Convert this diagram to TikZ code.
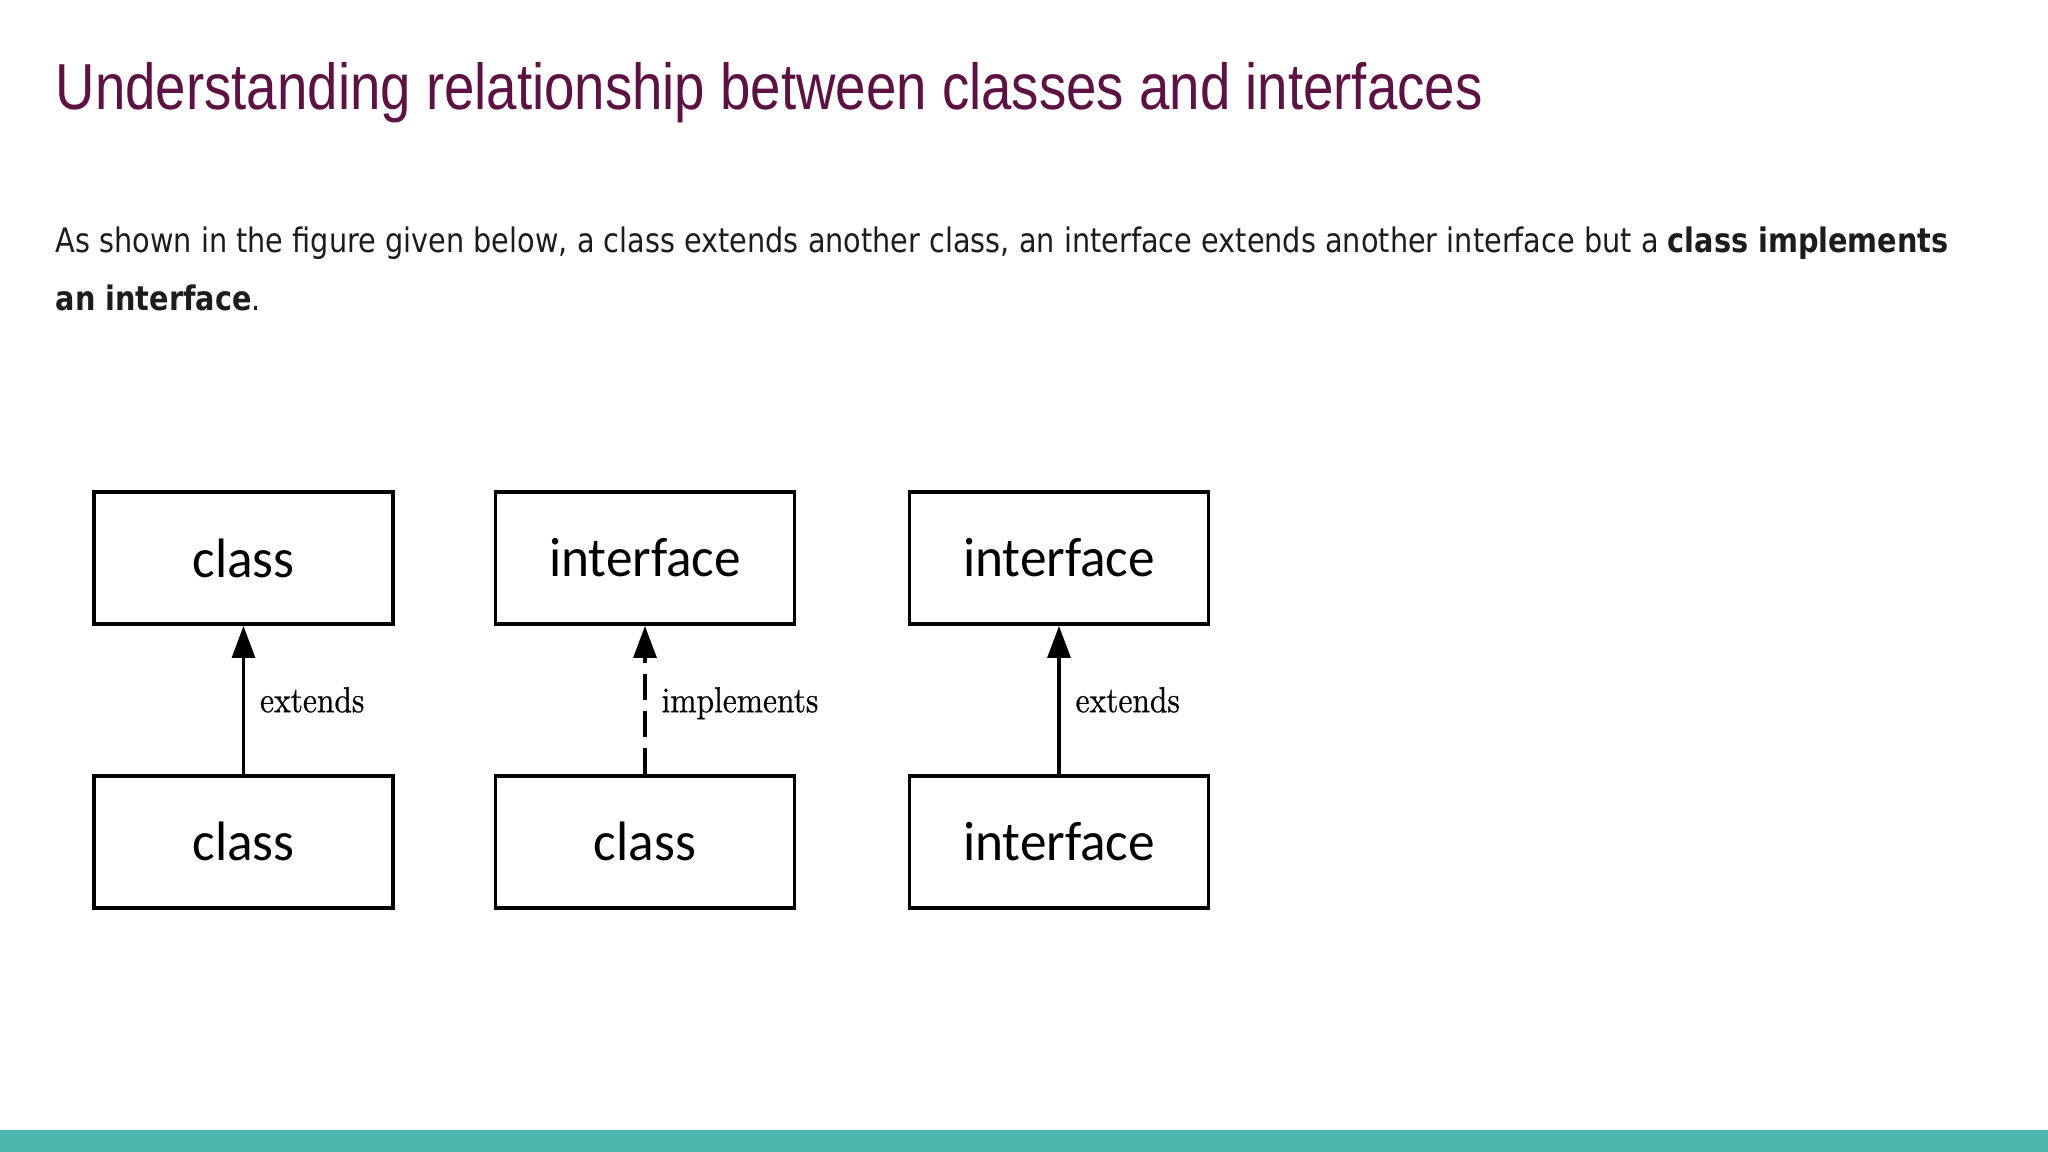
\documentclass[tikz,border=0pt]{standalone}
\usepackage{fontspec}
\usepackage{tikz}
\usetikzlibrary{arrows.meta, positioning}

\newfontfamily\titlefont[FakeStretch=0.84]{Liberation Sans}
\newfontfamily\parafont[FakeStretch=0.852]{DejaVu Sans}
\newfontfamily\boxfont[FakeStretch=0.96]{Carlito}
\newfontfamily\edgefont[FakeStretch=0.87, FakeBold=0.6]{lmroman10-regular.otf}

\definecolor{titlepurple}{RGB}{92,18,66}
\definecolor{barteal}{RGB}{77,182,172}
\definecolor{paratext}{RGB}{28,28,28}

\tikzset{
	umlbox/.style={draw, line width=1.1pt, minimum width=2.99cm, minimum height=1.32cm, inner sep=0pt, font=\boxfont\fontsize{15.8}{18}\selectfont},
	relarrow/.style={-{Triangle[length=3.2mm, width=2.3mm]}, line width=0.9pt},
	rellabel/.style={right=1.5mm, inner sep=0pt, text height=7pt, text depth=0pt, font=\edgefont\fontsize{10.3}{12}\selectfont},
}

\begin{document}
\begin{tikzpicture}[node distance=1.48cm]
			\fill[white] (0,0) rectangle (20.48,-11.52);
			\useasboundingbox (0,0) rectangle (20.48,-11.52);
			
			\fill[barteal] (0,-11.30) rectangle (20.48,-11.52);
			
			\node[anchor=base west, inner sep=0pt, text=titlepurple, font=\titlefont\fontsize{18.5}{22}\selectfont] (title) at (0.55,-1.1) {Understanding relationship between classes and interfaces};
			
			\node[anchor=north west, inner sep=0pt, align=left, text=paratext, font=\parafont\fontsize{9.6}{16.5}\selectfont] (intro) at (0.55,-2.26) {As shown in the figure given below, a class extends another class, an interface extends another interface but a \textbf{class implements}\\ \textbf{an interface}.};
			
			\node[umlbox] (sup1) at (2.435,-5.58) {class};
			\node[umlbox] (sup2) at (6.45,-5.58) {interface};
			\node[umlbox] (sup3) at (10.59,-5.58) {interface};
			
			\node[umlbox, below=of sup1] (sub1) {class};
			\node[umlbox, below=of sup2] (sub2) {class};
			\node[umlbox, below=of sup3] (sub3) {interface};
			
			\draw[relarrow] (sub1) -- (sup1) node[rellabel, midway] {extends};
			\draw[relarrow, dash pattern=on 2.6mm off 1.1mm] (sub2) -- (sup2) node[rellabel, midway] {implements};
			\draw[relarrow] (sub3) -- (sup3) node[rellabel, midway] {extends};
			
		\end{tikzpicture}
\end{document}
